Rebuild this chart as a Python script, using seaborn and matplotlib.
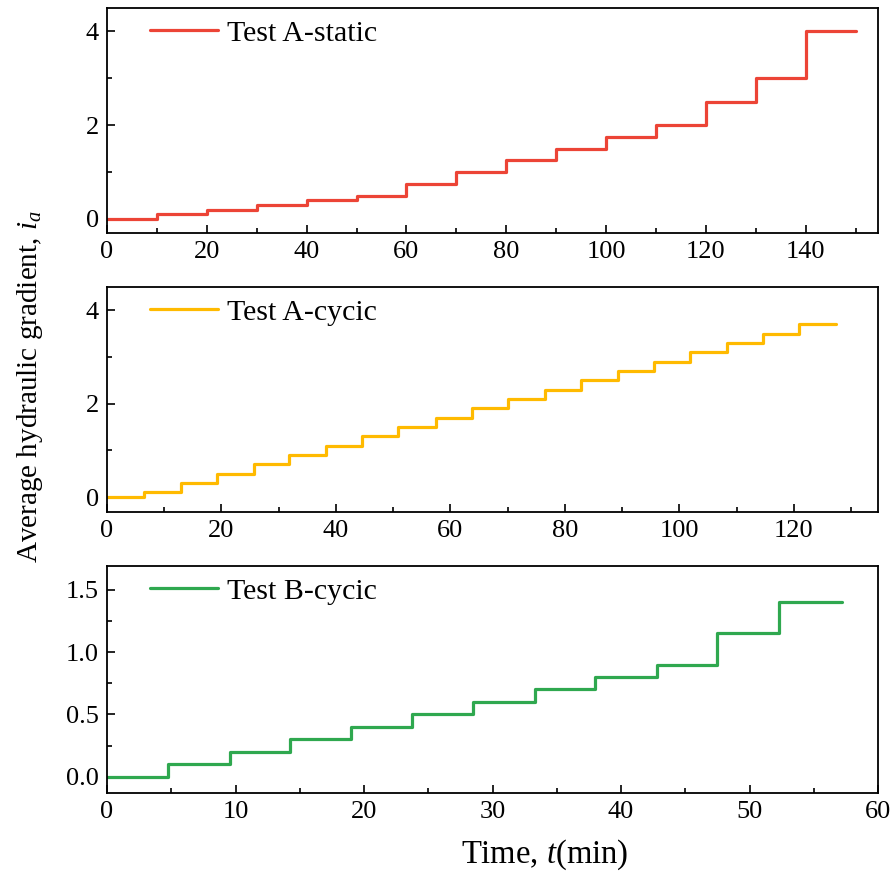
import matplotlib
matplotlib.use("Agg")
import matplotlib.pyplot as plt
import seaborn as sns
import pandas as pd
from matplotlib.ticker import MultipleLocator, AutoMinorLocator

# Loading stages: time at which each stage begins (min) and its hydraulic gradient
a_static_t = [0, 10, 20, 30, 40, 50, 60, 70, 80, 90, 100, 110, 120, 130, 140, 150]
a_static_i = [0.0, 0.1, 0.2, 0.3, 0.4, 0.5, 0.75, 1.0, 1.25, 1.5, 1.75, 2.0, 2.5, 3.0, 4.0]

a_cyclic_t = [0, 6.4, 12.9, 19.2, 25.6, 31.8, 38.2, 44.6, 50.9, 57.4, 63.7,
              70.0, 76.5, 82.8, 89.2, 95.6, 101.9, 108.3, 114.6, 120.9, 127.3]
a_cyclic_i = [0.0, 0.1, 0.3, 0.5, 0.7, 0.9, 1.1, 1.3, 1.5, 1.7, 1.9,
              2.1, 2.3, 2.5, 2.7, 2.9, 3.1, 3.3, 3.5, 3.7]

b_cyclic_t = [0, 4.75, 9.55, 14.25, 19.0, 23.75, 28.5, 33.3, 38.0, 42.8, 47.5, 52.3, 57.2]
b_cyclic_i = [0.0, 0.1, 0.2, 0.3, 0.4, 0.5, 0.6, 0.7, 0.8, 0.9, 1.15, 1.4]

labels = ["Test A-static", "Test A-cycic", "Test B-cycic"]
colors = ["#EC4436", "#FFBA00", "#2FA84F"]

sns.set_theme(style="ticks")
plt.rcParams["font.family"] = ["Liberation Serif", "DejaVu Serif"]
plt.rcParams["mathtext.fontset"] = "custom"
plt.rcParams["mathtext.rm"] = "Liberation Serif"
plt.rcParams["mathtext.it"] = "Liberation Serif:italic"
for key in ["text.color", "axes.labelcolor", "xtick.color", "ytick.color", "axes.edgecolor"]:
    plt.rcParams[key] = "black"

fig = plt.figure(figsize=(8.92, 8.81), dpi=100)
W, H = 892, 881
left, right = 107, 878
boxes = [(8, 233), (287, 512), (566, 793)]
axes = [fig.add_axes([left / W, 1 - b / H, (right - left) / W, (b - t) / H]) for t, b in boxes]

series = [(a_static_t, a_static_i), (a_cyclic_t, a_cyclic_i), (b_cyclic_t, b_cyclic_i)]
xlims = [(0, 154.5), (0, 134.7), (0, 60)]
ylims = [(-0.3, 4.5), (-0.32, 4.5), (-0.13, 1.69)]
xmajor = [20, 20, 10]
ymajor = [2, 2, 0.5]

for ax, (t, i), lab, col, xl, yl, xm, ym in zip(axes, series, labels, colors, xlims, ylims, xmajor, ymajor):
    df = pd.DataFrame({"t": t, "i": list(i) + [i[-1]]})
    sns.lineplot(data=df, x="t", y="i", ax=ax, color=col, linewidth=2.3,
                 drawstyle="steps-post", label=lab)
    ax.set_xlim(*xl)
    ax.set_ylim(*yl)
    ax.xaxis.set_major_locator(MultipleLocator(xm))
    ax.yaxis.set_major_locator(MultipleLocator(ym))
    ax.xaxis.set_minor_locator(AutoMinorLocator(2))
    ax.yaxis.set_minor_locator(AutoMinorLocator(2))
    ax.tick_params(which="both", direction="in", top=False, right=False,
                   labelsize=19, color="black", labelcolor="black", width=1.2)
    ax.tick_params(which="major", length=6, pad=6)
    ax.tick_params(which="minor", length=3.5)
    for s in ax.spines.values():
        s.set_color("black")
        s.set_linewidth(1.3)
    ax.set_xlabel("")
    ax.set_ylabel("")
    ax.legend(loc="upper left", bbox_to_anchor=(0.032, 1.027), frameon=False,
              fontsize=21.5, handlelength=2.3, handletextpad=0.3, borderaxespad=0.2)

fig.text(545 / W, 1 - 855 / H, "Time, $t$(min)", fontsize=23.5, ha="center", va="center")
fig.text(30 / W, 1 - 387 / H, "Average hydraulic gradient, $i_a$", rotation=90,
         fontsize=21, ha="center", va="center")

fig.savefig("out.png", dpi=100)
